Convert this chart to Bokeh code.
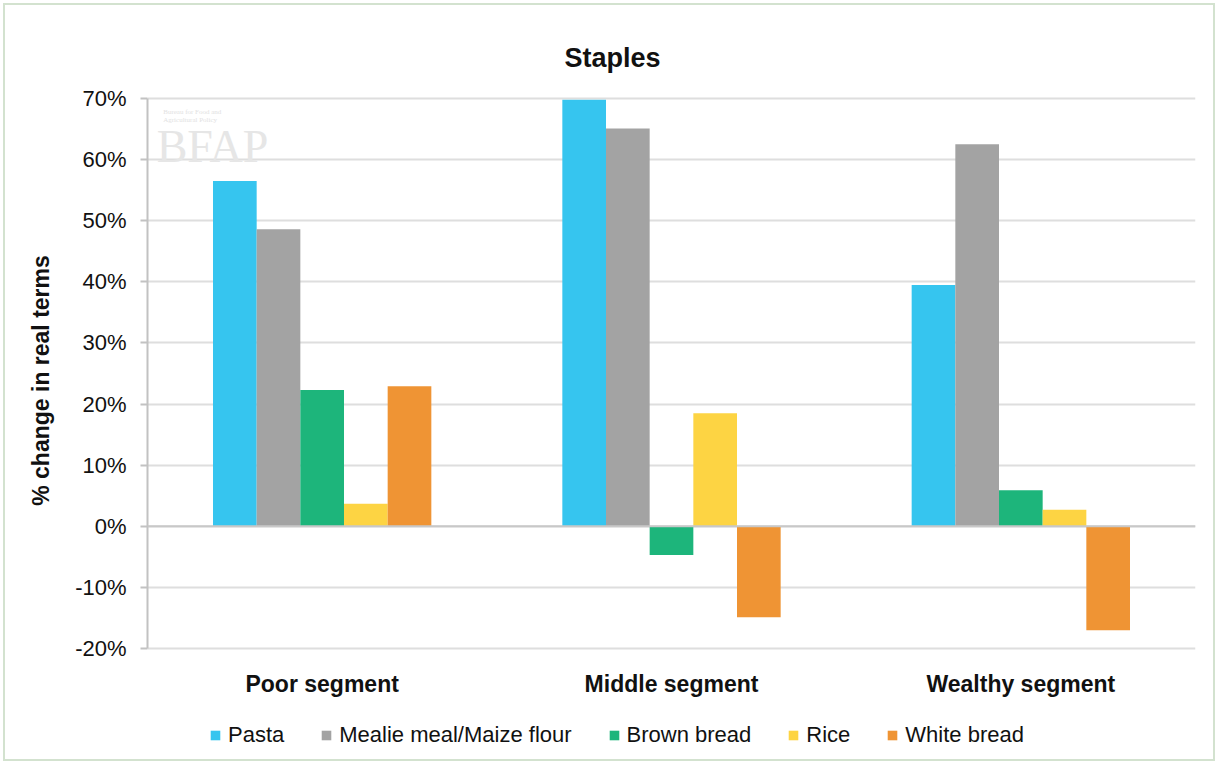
from bokeh.plotting import figure
from bokeh.models import (FactorRange, ColumnDataSource, FixedTicker, NumeralTickFormatter,
                          Span, Label, Legend, LegendItem)
from bokeh.transform import dodge
from bokeh.embed import file_html
from bokeh.resources import INLINE

# ---- data ----
segments = ["Poor segment", "Middle segment", "Wealthy segment"]
series_names = ["Pasta", "Mealie meal/Maize flour", "Brown bread", "Rice", "White bread"]
pasta = [0.565, 0.698, 0.395]
mealie = [0.486, 0.651, 0.625]
brown_bread = [0.223, -0.047, 0.059]
rice = [0.037, 0.185, 0.027]
white_bread = [0.229, -0.149, -0.170]
y_ticks = [-0.2, -0.1, 0.0, 0.1, 0.2, 0.3, 0.4, 0.5, 0.6, 0.7]

colors = ["#36C5EF", "#A3A3A3", "#1DB57B", "#FDD443", "#EF9434"]

FONT = "Liberation Sans"

# layout constants (pixels)
W, H = 1218, 764
PX_PER_UNIT = 611.1          # 10% == 61.1 px
TOP_PAD = 98                 # space above the 70% line (title lives here)
BOTTOM_PAD = 112             # space below the -20% line (labels + legend)
Y_MIN, Y_MAX = y_ticks[0], y_ticks[-1]

src = ColumnDataSource(data=dict(segment=segments, pasta=pasta, mealie=mealie,
                                 brown=brown_bread, rice=rice, white=white_bread))
cols = ["pasta", "mealie", "brown", "rice", "white"]

p = figure(width=W, height=H, x_range=FactorRange(factors=segments, range_padding=0),
           y_range=(Y_MIN - BOTTOM_PAD / PX_PER_UNIT, Y_MAX + TOP_PAD / PX_PER_UNIT),
           output_backend="svg", toolbar_location=None,
           min_border_left=147, min_border_right=23, min_border_top=0, min_border_bottom=4)
p.x_range.range_padding = 0
p.outline_line_color = None
p.background_fill_color = None
p.border_fill_color = None
p.styles = {"outline": "2px solid #D3E2CF", "outline-offset": "-5px", "background-color": "white"}

bw = 0.125
offsets = [-0.25, -0.125, 0.0, 0.125, 0.25]
items = []
for name, col, c, off in zip(series_names, cols, colors, offsets):
    r = p.vbar(x=dodge("segment", off, range=p.x_range), top=col, bottom=0, width=bw,
               source=src, fill_color=c, line_color=None)
    items.append(LegendItem(label=name, renderers=[r]))

# grid
p.xgrid.visible = False
p.ygrid.ticker = FixedTicker(ticks=y_ticks)
p.ygrid.grid_line_color = "#DEDEDE"
p.ygrid.grid_line_width = 2

zero = Span(location=0, dimension="width", line_color="#C8C8C8", line_width=2)
p.add_layout(zero)

# y axis
p.yaxis.ticker = FixedTicker(ticks=y_ticks)
p.yaxis.bounds = (Y_MIN, Y_MAX)
p.yaxis.formatter = NumeralTickFormatter(format="0%")
p.yaxis.axis_line_color = "#C2C2C2"
p.yaxis.axis_line_width = 2
p.yaxis.major_tick_line_color = "#C2C2C2"
p.yaxis.major_tick_line_width = 2
p.yaxis.major_tick_out = 7
p.yaxis.major_tick_in = 0
p.yaxis.minor_tick_line_color = None
p.yaxis.major_label_standoff = 14
p.yaxis.major_label_text_font = FONT
p.yaxis.major_label_text_font_size = "22px"
p.yaxis.major_label_text_color = "#111111"
p.yaxis.axis_label = "% change in real terms"
p.yaxis.axis_label_text_font = FONT
p.yaxis.axis_label_text_font_size = "23px"
p.yaxis.axis_label_text_font_style = "bold"
p.yaxis.axis_label_text_color = "#111111"
p.yaxis.axis_label_standoff = 18

# x axis (category labels beneath the -20% line)
p.xaxis.fixed_location = Y_MIN
p.xaxis.axis_line_color = None
p.xaxis.major_tick_line_color = None
p.xaxis.minor_tick_line_color = None
p.xaxis.major_label_standoff = 17
p.xaxis.major_label_text_font = FONT
p.xaxis.major_label_text_font_size = "23px"
p.xaxis.major_label_text_font_style = "bold"
p.xaxis.major_label_text_color = "#111111"

# title
title = Label(x=1.331, y=Y_MAX + 41 / PX_PER_UNIT, text="Staples", text_font=FONT,
              text_font_size="27px", text_font_style="bold", text_align="center",
              text_baseline="middle", text_color="#111111")
p.add_layout(title)

# faint watermark
wm = Label(x=0.186, y=0.622, text="BFAP", text_font="Liberation Serif", text_font_size="46px",
           text_align="center", text_baseline="middle", text_color="#E6E6E6")
p.add_layout(wm)
wm2 = Label(x=0.045, y=0.678, text="Bureau for Food and", text_font="Liberation Serif",
            text_font_size="7px", text_align="left", text_baseline="middle", text_color="#E2E2E2")
wm3 = Label(x=0.045, y=0.665, text="Agricultural Policy", text_font="Liberation Serif",
            text_font_size="7px", text_align="left", text_baseline="middle", text_color="#E2E2E2")
p.add_layout(wm2)
p.add_layout(wm3)

# legend
lg = Legend(items=items, orientation="horizontal", location=(62, 12))
lg.border_line_color = None
lg.background_fill_alpha = 0
lg.padding = 0
lg.margin = 0
lg.spacing = 36
lg.glyph_width = 12
lg.glyph_height = 12
lg.label_standoff = 7
lg.label_text_font = FONT
lg.label_text_font_size = "22px"
lg.label_text_color = "#111111"
p.add_layout(lg, "center")

open("out.html", "w").write(file_html(p, INLINE))
